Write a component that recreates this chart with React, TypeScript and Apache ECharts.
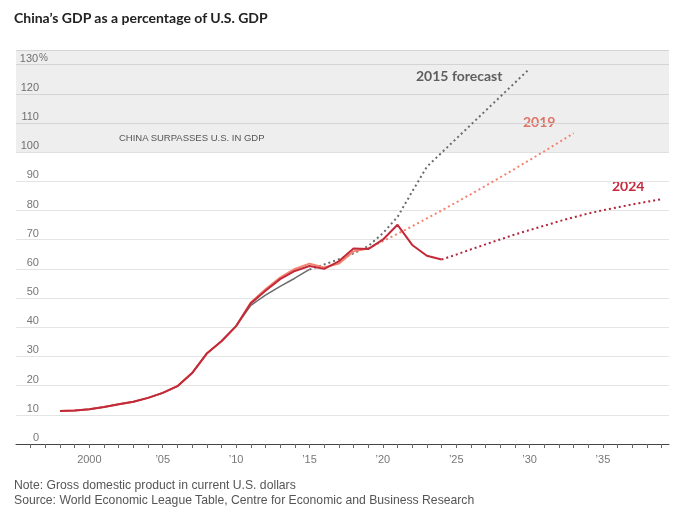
import { useEffect, useRef } from 'react';
import * as echarts from 'echarts';

// actual data, by the year each vintage was published (first year 1998)
const histStart = 1998;
const actual2024 = [
  11.3, 11.5, 11.9, 12.7, 13.6, 14.5, 15.8, 17.5, 19.8, 24.3, 31.0, 35.2, 40.4, 48.2, 52.5, 56.5,
  59.3, 61.0, 60.0, 62.6, 67.0, 66.8, 70.0, 75.1, 68.2, 64.5, 63.2
];
const actual2019 = [
  11.3, 11.5, 11.9, 12.7, 13.6, 14.5, 15.8, 17.5, 19.8, 24.3, 31.0, 35.2, 40.4, 48.5, 53.0, 57.0,
  60.0, 61.8, 60.5, 61.8, 66.0, 67.0
];
const actual2015 = [
  11.3, 11.5, 11.9, 12.7, 13.6, 14.5, 15.8, 17.5, 19.8, 24.3, 31.0, 35.2, 40.4, 47.5, 51.0, 54.0,
  56.8, 59.8
];

// forecasts
const fc2015Start = 2015;
const forecast2015 = [
  59.8, 61.5, 63.3, 65.3, 67.8, 72.2, 77.8, 86.5, 95.0, 99.8, 104.6, 109.4, 114.2, 119.0, 123.8, 128.6
];
const fc2019Start = 2019;
const forecast2019 = [
  67.0, 69.5, 72.0, 74.6, 77.3, 80.0, 82.8, 85.6, 88.5, 91.4, 94.3, 97.3, 100.3, 103.4, 106.5
];
const fc2024Start = 2024;
const forecast2024 = [
  63.2, 64.9, 66.7, 68.4, 70.1, 71.8, 73.3, 74.8, 76.3, 77.7, 79.0, 80.1, 81.1, 82.1, 83.0, 83.9
];

const tickYears = [
  1996, 1997, 1998, 1999, 2000, 2001, 2002, 2003, 2004, 2005, 2006, 2007, 2008, 2009, 2010, 2011,
  2012, 2013, 2014, 2015, 2016, 2017, 2018, 2019, 2020, 2021, 2022, 2023, 2024, 2025, 2026, 2027,
  2028, 2029, 2030, 2031, 2032, 2033, 2034, 2035, 2036, 2037, 2038, 2039
];
const labelYears = [2000, 2005, 2010, 2015, 2020, 2025, 2030, 2035];

const RED = '#c22a3a';
const SALMON = '#f4826f';
const GRAY = '#6b6b6b';
const SANS = '"Liberation Sans", Arial, sans-serif';

const toPairs = (start: number, values: number[]) => values.map((v, i) => [start + i, v]);

export default function App() {
  const ref = useRef<HTMLDivElement>(null);

  useEffect(() => {
    if (!ref.current) return;
    const chart = echarts.init(ref.current, null, { renderer: 'svg' });

    const solid = (name: string, data: number[][], color: string, width: number) => ({
      name,
      type: 'line' as const,
      data,
      showSymbol: false,
      symbol: 'none',
      lineStyle: { color, width },
      z: 3
    });
    const dotted = (name: string, data: number[][], color: string) => ({
      name,
      type: 'line' as const,
      data,
      showSymbol: false,
      symbol: 'none',
      lineStyle: { color, width: 2, type: [2, 3] },
      z: 2
    });

    const option: echarts.EChartsOption = {
      animation: false,
      title: [
        {
          text: 'China’s GDP as a percentage of U.S. GDP',
          left: 14,
          top: 10,
          padding: 0,
          textStyle: { fontFamily: 'Lato, sans-serif', fontSize: 14, fontWeight: 'bold', color: '#222' }
        },
        {
          text:
            'Note: Gross domestic product in current U.S. dollars\nSource: World Economic League Table, Centre for Economic and Business Research',
          left: 14,
          top: 477,
          padding: 0,
          textStyle: {
            fontFamily: SANS,
            fontSize: 12.2,
            fontWeight: 'normal',
            color: '#555',
            lineHeight: 15
          }
        }
      ],
      grid: { left: 16, right: 11, top: 50, bottom: 70 },
      xAxis: {
        type: 'value',
        min: 1995,
        max: 2039.5,
        axisLine: { lineStyle: { color: '#444', width: 1 } },
        axisTick: { customValues: tickYears, length: 4, lineStyle: { color: '#666' } },
        axisLabel: {
          customValues: labelYears,
          color: '#777',
          fontSize: 11,
          fontFamily: SANS,
          margin: 9,
          formatter: (v: number) => (v === 2000 ? '2000' : '’' + String(v).slice(2))
        },
        splitLine: { show: false }
      },
      yAxis: {
        type: 'value',
        min: 0,
        max: 135,
        interval: 10,
        axisLine: { show: false },
        axisTick: { show: false },
        splitLine: { lineStyle: { color: '#e4e4e4' } },
        axisLabel: {
          inside: true,
          margin: 3,
          verticalAlign: 'bottom',
          lineHeight: 14,
          color: '#777',
          fontSize: 11,
          fontFamily: SANS,
          formatter: (v: number) =>
            v % 10 !== 0 ? '' : v === 130 ? '{n|130}{p|%}' : '{n|' + v + '}',
          rich: {
            n: { width: 20, align: 'right', color: '#777', fontSize: 11, fontFamily: SANS },
            p: { color: '#777', fontSize: 10, fontFamily: SANS }
          }
        }
      },
      series: [
        {
          ...dotted('2015 forecast', toPairs(fc2015Start, forecast2015), GRAY),
          markArea: {
            silent: true,
            itemStyle: { color: 'rgba(0,0,20,0.065)' },
            label: {
              show: true,
              position: [103, 87],
              align: 'left',
              verticalAlign: 'middle',
              color: '#555',
              fontSize: 9.5,
              fontFamily: SANS
            },
            data: [[{ yAxis: 100, name: 'CHINA SURPASSES U.S. IN GDP' }, { yAxis: 135 }]]
          }
        },
        dotted('2019 forecast', toPairs(fc2019Start, forecast2019), SALMON),
        dotted('2024 forecast', toPairs(fc2024Start, forecast2024), '#b3243a'),
        solid('2015', toPairs(histStart, actual2015), GRAY, 1.5),
        solid('2019', toPairs(histStart, actual2019), SALMON, 2),
        solid('2024', toPairs(histStart, actual2024), RED, 2)
      ],
      graphic: [
        {
          type: 'text',
          left: 416,
          top: 68,
          style: { text: '2015 forecast', fill: '#666', font: 'bold 14px Lato, sans-serif' }
        },
        {
          type: 'text',
          left: 523,
          top: 114,
          style: { text: '2019', fill: '#f07c6c', font: 'bold 14px Lato, sans-serif' }
        },
        {
          type: 'text',
          left: 612,
          top: 178,
          style: { text: '2024', fill: '#c8283c', font: 'bold 14px Lato, sans-serif' }
        }
      ]
    };

    chart.setOption(option);
    return () => chart.dispose();
  }, []);

  return <div ref={ref} style={{ position: 'fixed', left: 0, top: 0, width: 680, height: 514 }} />;
}
